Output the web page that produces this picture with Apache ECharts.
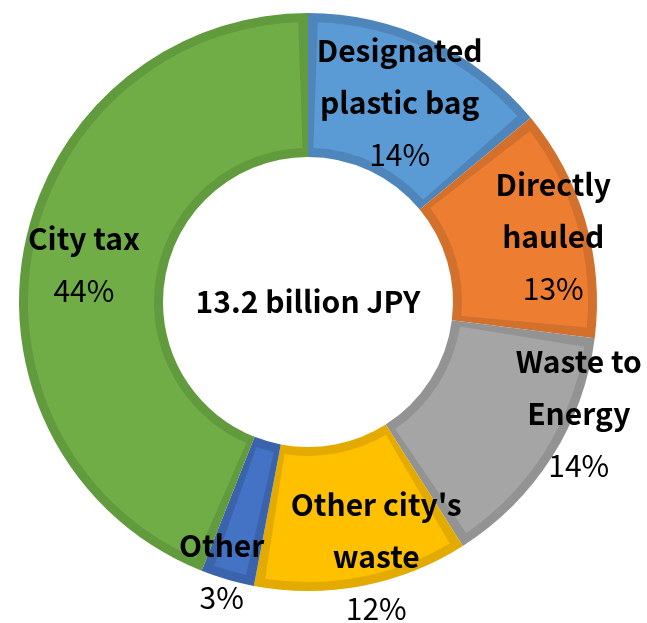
<!DOCTYPE html>
<html>
<head>
<meta charset="utf-8">
<script src="https://cdn.jsdelivr.net/npm/echarts@6/dist/echarts.min.js"></script>
<style>
  html, body { margin: 0; padding: 0; background: #ffffff; }
  #chart { width: 647px; height: 623px; }
</style>
</head>
<body>
<div id="chart"></div>
<script>
// Revenue breakdown (clockwise from 12 o'clock)
const categories = ['Designated\nplastic bag', 'Directly\nhauled', 'Waste to\nEnergy', "Other city's\nwaste", 'Other', 'City tax'];
const shares = [14, 13, 14, 12, 3, 44];
const totalLabel = '13.2 billion JPY';

// Fill and border shades per slice
const fillColors = ['#5B9BD5', '#ED7D31', '#A5A5A5', '#FFC000', '#4472C4', '#70AD47'];
const edgeColors = ['#4E86BC', '#D2702C', '#939393', '#E3AB00', '#3A63AC', '#629A3E'];

// Label nudges relative to the default inside position
const labelShift = [[-2, 0], [34, -4], [85, -6], [27, 38], [-25, 58], [-8, 4]];

const FONT = '"Noto Sans CJK JP", "Noto Sans", sans-serif';

const chart = echarts.init(document.getElementById('chart'), null, { renderer: 'canvas' });

const baseData = categories.map((c, i) => ({
  name: c, value: shares[i], itemStyle: { color: edgeColors[i] }
}));
const topData = categories.map((c, i) => ({
  name: c, value: shares[i], itemStyle: { color: fillColors[i] }
}));

chart.setOption({
  animation: false,
  graphic: [{
    type: 'text',
    x: 308, y: 302,
    style: {
      text: totalLabel,
      align: 'center', verticalAlign: 'middle',
      font: 'bold 30px ' + FONT,
      fill: '#000'
    }
  }],
  series: [
    {
      // darker outline ring
      type: 'pie',
      center: [308, 302],
      radius: [145, 289],
      startAngle: 90,
      clockwise: true,
      silent: true,
      label: { show: false },
      labelLine: { show: false },
      data: baseData
    },
    {
      // lighter slice bodies, inset to leave the outline visible
      type: 'pie',
      center: [308, 302],
      radius: [154, 280],
      startAngle: 90,
      clockwise: true,
      padAngle: 4,
      silent: true,
      labelLine: { show: false },
      label: {
        show: true,
        position: 'inside',
        formatter: '{n|{b}}\n{p|{d}%}',
        rich: {
          n: { fontFamily: FONT, fontSize: 30, fontWeight: 'bold', color: '#000', lineHeight: 52, align: 'center' },
          p: { fontFamily: FONT, fontSize: 30, fontWeight: 'normal', color: '#000', lineHeight: 52, align: 'center' }
        }
      },
      labelLayout: function (params) {
        const s = labelShift[params.dataIndex];
        return { dx: s[0], dy: s[1], hideOverlap: false };
      },
      data: topData
    }
  ]
});
</script>
</body>
</html>
